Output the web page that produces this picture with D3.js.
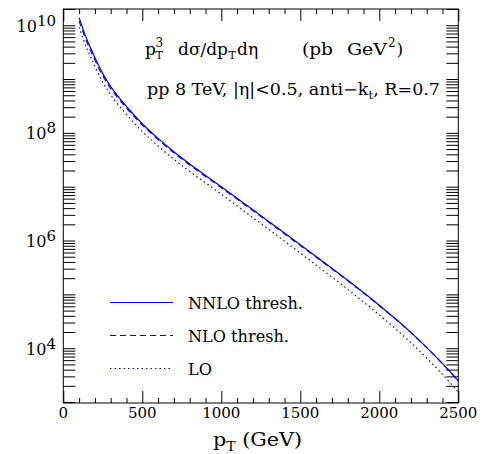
<!DOCTYPE html>
<html>
<head>
<meta charset="utf-8">
<script src="https://cdn.jsdelivr.net/npm/d3@7"></script>
<style>
  body { margin: 0; background: #fff; }
  svg { font-family: "DejaVu Serif", serif; }
  svg text { white-space: pre; }
  .frame { fill: none; stroke: #000; stroke-width: 1; }
  .axis path { display: none; }
  .axis line { stroke: #000; stroke-width: 1; }
  .curve { fill: none; stroke: #0000ff; stroke-width: 1.2; }
</style>
</head>
<body>
<div id="chart"></div>
<script>
// pT values (GeV) and the three curves (pb GeV^2)
const pT = [100, 150, 200, 250, 300, 400, 500, 600, 700, 800, 1000, 1200, 1400, 1600, 1800, 2000, 2200, 2400, 2500];
const nnloThresh = [1.38e10, 5.37e9, 2.51e9, 1.26e9, 7.24e8, 3.09e8, 1.48e8, 7.89e7, 4.47e7, 2.65e7, 1.0e7, 3.72e6, 1.38e6, 5.07e5, 1.83e5, 6.3e4, 1.97e4, 5.19e3, 2.48e3];
const nloThresh = [1.2e10, 4.79e9, 2.26e9, 1.15e9, 6.68e8, 2.88e8, 1.4e8, 7.5e7, 4.27e7, 2.54e7, 9.57e6, 3.6e6, 1.33e6, 4.9e5, 1.79e5, 6.15e4, 1.95e4, 5.19e3, 2.48e3];
const lo = [9.12e9, 3.63e9, 1.72e9, 8.71e8, 5.07e8, 2.19e8, 1.06e8, 5.71e7, 3.24e7, 1.92e7, 7.26e6, 2.67e6, 9.75e5, 3.51e5, 1.24e5, 4.16e4, 1.27e4, 3.27e3, 1.53e3];

const xMajorTicks = [0, 500, 1000, 1500, 2000, 2500];
const yLabelExps = [4, 6, 8, 10];
const legendLabels = ["NNLO thresh.", "NLO thresh.", "LO"];

const width = 484, height = 454;
const plotLeft = 63.3, plotRight = 458.3, plotTop = 9, plotBottom = 403;

const svg = d3.select("#chart").append("svg")
  .attr("width", width).attr("height", height);

const x = d3.scaleLinear().domain([0, 2500]).range([plotLeft, plotRight]);
const y = d3.scaleLog().domain([960, 2e10]).range([plotBottom, plotTop]);

// minor x ticks every 100
const xMinor = d3.range(0, 2501, 100).filter(v => v % 500 !== 0);
// log ticks 1..9 x 10^n
const yTicks = [];
for (let e = 2; e <= 10; e++) for (let m = 1; m <= 9; m++) {
  const v = m * Math.pow(10, e);
  if (v >= 960 && v <= 2e10) yTicks.push(v);
}

function addAxis(axisFn, scale, values, size, transform) {
  svg.append("g").attr("class", "axis")
    .attr("transform", transform)
    .call(axisFn(scale).tickValues(values).tickSize(size).tickFormat(""));
}

// plain text helper; len stretches the glyphs to a given width
function addText(str, tx, ty, size, len) {
  const t = svg.append("text").attr("x", tx).attr("y", ty)
    .attr("font-size", size).text(str);
  if (len) t.attr("textLength", len).attr("lengthAdjust", "spacingAndGlyphs");
  return t;
}

// a line of text with sub/superscripts, stretched to a target width
function richText(parts, x0, y0, size, targetWidth) {
  const g = svg.append("g");
  let cx = 0, prevX = 0;
  parts.forEach(p => {
    const small = p.sup || p.sub;
    const dy = p.sup ? -0.47 * size : p.sub ? 0.25 * size : 0;
    const px = p.stack ? prevX : cx;
    const t = g.append("text").attr("x", px).attr("y", dy)
      .attr("font-size", small ? size * 0.68 : size).text(p.t);
    const w = t.node().getComputedTextLength();
    cx = p.stack ? Math.max(cx, px + w) : px + w;
    prevX = px;
  });
  g.attr("transform", `translate(${x0},${y0}) scale(${targetWidth / cx},1)`);
  return g;
}

// bottom & top ticks (pointing inward)
addAxis(d3.axisBottom, x, xMajorTicks, -12, `translate(0,${plotBottom})`);
addAxis(d3.axisBottom, x, xMinor, -5, `translate(0,${plotBottom})`);
addAxis(d3.axisTop, x, xMajorTicks, -12, `translate(0,${plotTop})`);
addAxis(d3.axisTop, x, xMinor, -5, `translate(0,${plotTop})`);
// left & right ticks
addAxis(d3.axisLeft, y, yTicks, -12, `translate(${plotLeft},0)`);
addAxis(d3.axisRight, y, yTicks, -12, `translate(${plotRight},0)`);

svg.append("rect").attr("class", "frame")
  .attr("x", plotLeft).attr("y", plotTop)
  .attr("width", plotRight - plotLeft).attr("height", plotBottom - plotTop);

// x tick labels
svg.append("g").selectAll("text").data(xMajorTicks).join("text")
  .attr("x", d => x(d)).attr("y", plotBottom + 15)
  .attr("text-anchor", "middle").attr("font-size", 15)
  .text(d => d);

// y tick labels 10^n
const yl = svg.append("g").selectAll("text").data(yLabelExps).join("text")
  .attr("x", 56).attr("y", d => y(Math.pow(10, d)) + 6.5)
  .attr("text-anchor", "end").attr("font-size", 16);
yl.append("tspan").text("10");
yl.append("tspan").attr("dy", -6).attr("font-size", 15).text(d => d);

// x axis title
richText([{ t: "p" }, { t: "T", sub: true }, { t: " (GeV)" }], 213, 446, 18, 89);

// plot title, line 1
addText("p", 145, 55, 17);
addText("3", 155.5, 47, 12);
addText("T", 155.5, 59, 11);
addText("d\u03c3/dp", 178, 55, 17, 50);
addText("T", 228.5, 59, 11);
addText("d\u03b7", 237, 55, 17);
addText("(pb", 302, 55, 17, 31);
addText("GeV", 347, 55, 17, 40);
addText("2", 388, 47, 12);
addText(")", 396.5, 55, 17);

// plot title, line 2
richText([
  { t: "pp 8 TeV, |\u03b7|<0.5, anti\u2212k" }, { t: "t", sub: true }, { t: ", R=0.7" }
], 147, 95, 16, 293);

// curves
svg.append("clipPath").attr("id", "clip").append("rect")
  .attr("x", plotLeft).attr("y", plotTop).attr("width", plotRight - plotLeft).attr("height", plotBottom - plotTop);

const series = [
  { values: nnloThresh, dash: null },
  { values: nloThresh, dash: "6,4" },
  { values: lo, dash: "1.5,3" }
];

const line = d3.line().curve(d3.curveCatmullRom.alpha(0.5))
  .x(d => x(d[0])).y(d => y(d[1]));

svg.append("g").attr("clip-path", "url(#clip)")
  .selectAll("path").data(series).join("path")
  .attr("class", "curve")
  .attr("stroke-dasharray", d => d.dash)
  .attr("d", d => line(pT.map((p, i) => [p, d.values[i]])));

// legend
const legY = [302.5, 335.5, 368.5];
const leg = svg.append("g").selectAll("g").data(series).join("g")
  .attr("transform", (d, i) => `translate(0,${legY[i]})`);
leg.append("line").attr("class", "curve")
  .attr("x1", 110).attr("x2", 173).attr("y1", 0).attr("y2", 0)
  .attr("stroke-dasharray", d => d.dash);
const legText = leg.append("text").attr("x", 188).attr("y", 6.5).attr("font-size", 17)
  .text((d, i) => legendLabels[i]);
// stretch all legend labels by the same factor so "NNLO thresh." spans 115px
const stretch = 115 / legText.node().getComputedTextLength();
legText.each(function () {
  const w = this.getComputedTextLength();
  d3.select(this).attr("textLength", w * stretch).attr("lengthAdjust", "spacingAndGlyphs");
});
</script>
</body>
</html>
